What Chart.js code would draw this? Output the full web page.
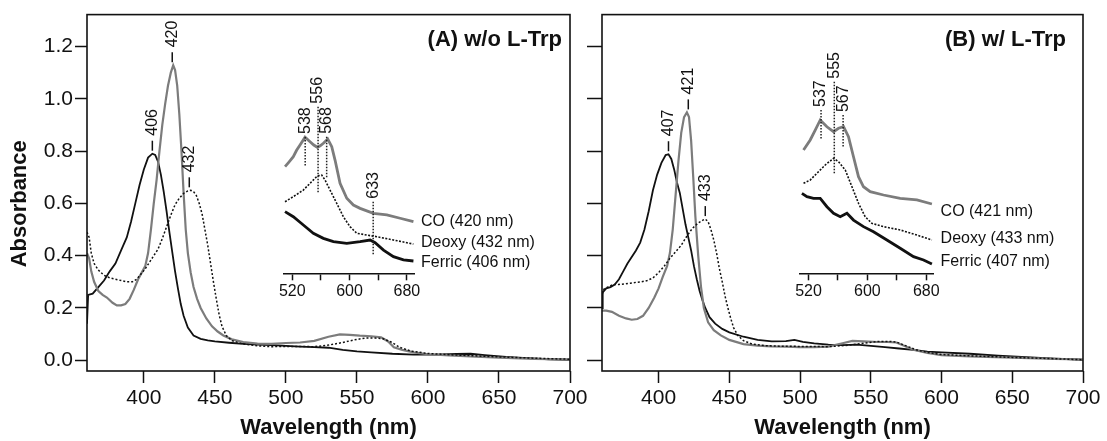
<!DOCTYPE html>
<html>
<head>
<meta charset="utf-8">
<script src="https://cdn.jsdelivr.net/npm/chart.js@4/dist/chart.umd.min.js"></script>
<style>
    body { margin: 0; background: #fff; }
    #wrap { position: relative; width: 1107px; height: 441px; }
    canvas { position: absolute; }
</style>
</head>
<body>
<div id="wrap">
    <canvas id="mainA" width="600" height="441" style="left:0;top:0"></canvas>
    <canvas id="mainB" width="532" height="441" style="left:575px;top:0"></canvas>
    <canvas id="insetA" width="290" height="270" style="left:270px;top:40px"></canvas>
    <canvas id="insetB" width="321" height="270" style="left:786px;top:40px"></canvas>
</div>
<script>
// ---- main spectra, panel A (w/o L-Trp) ----
var ferricA_nm = [360, 360.8, 364, 368, 372, 376, 380, 384, 388, 391, 394, 397, 400, 403, 406, 408, 410, 412, 414, 416, 418, 420, 422, 424, 426, 428, 431, 435, 440, 445, 450, 460, 470, 480, 490, 500, 510, 520, 530, 540, 550, 560, 575, 590, 605, 620, 630, 640, 655, 670, 685, 700];
var ferricA_abs = [0.14, 0.25, 0.255, 0.28, 0.305, 0.34, 0.37, 0.42, 0.47, 0.53, 0.6, 0.67, 0.73, 0.775, 0.79, 0.785, 0.76, 0.71, 0.645, 0.57, 0.49, 0.415, 0.34, 0.275, 0.215, 0.17, 0.125, 0.095, 0.082, 0.076, 0.072, 0.067, 0.063, 0.06, 0.058, 0.055, 0.052, 0.05, 0.048, 0.04, 0.034, 0.03, 0.025, 0.022, 0.022, 0.024, 0.025, 0.02, 0.013, 0.008, 0.004, 0.002];

var coA_nm = [360, 361.5, 363, 365, 368, 371, 374, 378, 381, 384, 387, 390, 393, 396, 399, 401, 403, 405, 407, 409, 411, 413, 415, 417, 419, 420.7, 422, 423.5, 425, 426.5, 428, 429.5, 431, 433, 435, 437.5, 440, 444, 448, 452, 456, 462, 470, 480, 490, 500, 510, 520, 530, 538, 545, 552, 560, 567, 572, 576, 582, 590, 600, 615, 630, 650, 675, 700];
var coA_abs = [0.41, 0.39, 0.34, 0.3, 0.265, 0.25, 0.24, 0.22, 0.21, 0.21, 0.215, 0.235, 0.27, 0.31, 0.34, 0.36, 0.41, 0.5, 0.6, 0.69, 0.8, 0.9, 0.98, 1.05, 1.1, 1.128, 1.11, 1.05, 0.94, 0.8, 0.64, 0.5, 0.41, 0.335, 0.28, 0.235, 0.2, 0.16, 0.13, 0.11, 0.095, 0.08, 0.07, 0.064, 0.063, 0.066, 0.068, 0.074, 0.09, 0.099, 0.097, 0.094, 0.092, 0.088, 0.072, 0.05, 0.04, 0.03, 0.023, 0.019, 0.015, 0.01, 0.005, 0.003];

var deoxyA_nm = [360, 361.5, 363, 365, 368, 372, 376, 380, 384, 388, 392, 395, 398, 401, 404, 407, 410, 413, 416, 419, 422, 425, 428, 431, 433, 435, 437, 439, 441, 443, 445, 447, 449, 451, 453, 455, 458, 462, 470, 480, 490, 500, 510, 520, 530, 540, 548, 556, 563, 568, 574, 580, 588, 600, 620, 650, 680, 700];
var deoxyA_abs = [0.49, 0.47, 0.41, 0.37, 0.345, 0.325, 0.315, 0.31, 0.305, 0.3, 0.3, 0.31, 0.33, 0.35, 0.375, 0.4, 0.425, 0.465, 0.51, 0.555, 0.595, 0.62, 0.638, 0.648, 0.65, 0.645, 0.63, 0.6, 0.56, 0.5, 0.44, 0.37, 0.3, 0.235, 0.175, 0.13, 0.095, 0.075, 0.062, 0.055, 0.052, 0.053, 0.053, 0.052, 0.058, 0.068, 0.078, 0.085, 0.085, 0.083, 0.07, 0.05, 0.035, 0.026, 0.02, 0.013, 0.007, 0.004];

// ---- main spectra, panel B (w/ L-Trp) ----
var ferricB_nm = [360, 360.5, 363, 366, 369, 372, 375, 378, 381, 384, 387, 390, 393, 396, 399, 402, 405, 407, 409, 411, 413, 415, 417, 419, 421, 423, 425, 427, 429, 431, 433, 436, 440, 445, 450, 460, 470, 480, 490, 496, 502, 510, 520, 530, 540, 550, 560, 570, 580, 590, 600, 620, 640, 660, 680, 700];
var ferricB_abs = [0.2, 0.26, 0.275, 0.28, 0.29, 0.31, 0.34, 0.37, 0.395, 0.42, 0.45, 0.5, 0.57, 0.65, 0.71, 0.755, 0.785, 0.788, 0.77, 0.73, 0.68, 0.64, 0.58, 0.52, 0.47, 0.42, 0.36, 0.31, 0.265, 0.23, 0.2, 0.165, 0.14, 0.12, 0.107, 0.09, 0.078, 0.072, 0.073, 0.078, 0.07, 0.065, 0.06, 0.058, 0.06, 0.055, 0.05, 0.045, 0.04, 0.033, 0.03, 0.025, 0.018, 0.012, 0.006, 0.002];

var coB_nm = [360, 363, 367, 372, 377, 381, 385, 389, 393, 397, 400, 403, 406, 408, 410, 412, 414, 416, 418, 420, 421.5, 423, 424.5, 426, 428, 430, 432, 435, 439, 444, 450, 460, 470, 480, 490, 500, 510, 520, 530, 537, 545, 555, 562, 568, 574, 580, 590, 600, 620, 650, 680, 700];
var coB_abs = [0.19, 0.19, 0.185, 0.17, 0.16, 0.155, 0.158, 0.17, 0.2, 0.24, 0.275, 0.32, 0.36, 0.41, 0.5, 0.63, 0.76, 0.87, 0.93, 0.948, 0.93, 0.84, 0.7, 0.55, 0.4, 0.28, 0.2, 0.145, 0.115, 0.095, 0.078, 0.062, 0.056, 0.053, 0.052, 0.05, 0.05, 0.052, 0.065, 0.074, 0.072, 0.07, 0.07, 0.068, 0.055, 0.04, 0.028, 0.02, 0.015, 0.01, 0.005, 0.003];

var deoxyB_nm = [360, 360.8, 364, 368, 372, 376, 380, 384, 388, 392, 396, 400, 404, 408, 412, 416, 420, 424, 428, 431, 433, 435, 437, 439, 441, 443, 445, 447, 449, 451, 453, 456, 460, 466, 475, 485, 500, 520, 535, 545, 555, 563, 568, 575, 582, 590, 600, 620, 650, 680, 700];
var deoxyB_abs = [0.24, 0.27, 0.28, 0.29, 0.29, 0.292, 0.295, 0.298, 0.3, 0.305, 0.315, 0.335, 0.36, 0.39, 0.415, 0.44, 0.475, 0.505, 0.525, 0.535, 0.54, 0.53, 0.5, 0.46, 0.41, 0.35, 0.3, 0.245, 0.2, 0.16, 0.125, 0.095, 0.075, 0.062, 0.056, 0.054, 0.053, 0.052, 0.058, 0.065, 0.072, 0.072, 0.07, 0.055, 0.04, 0.03, 0.022, 0.017, 0.011, 0.006, 0.002];

// peak labels of the Soret bands
var peakA_nm = [406, 420, 432];
var peakA_abs = [0.79, 1.128, 0.65];
var peakB_nm = [407, 421, 433];
var peakB_abs = [0.788, 0.948, 0.54];

// ---- insets (offset spectra, arbitrary units) ----
var insCoA_nm = [509.8, 515, 521.4, 526, 530.8, 537.8, 544.8, 550, 555, 559, 563.4, 569.5, 575.1, 579.7, 586.7, 596.1, 605.3, 614.7, 633.3, 652, 670.6, 689.2];
var insCoA_val = [0.711, 0.74, 0.777, 0.82, 0.855, 0.907, 0.877, 0.855, 0.84, 0.85, 0.867, 0.895, 0.844, 0.755, 0.6, 0.5, 0.455, 0.433, 0.4, 0.389, 0.367, 0.344];
var insDeoxyA_nm = [509.8, 521.4, 535.4, 544.8, 555, 561.1, 565.7, 572.7, 582, 591.3, 600.6, 610, 624, 638, 661.3, 689.2];
var insDeoxyA_val = [0.477, 0.511, 0.555, 0.6, 0.649, 0.655, 0.622, 0.555, 0.467, 0.377, 0.311, 0.267, 0.255, 0.244, 0.222, 0.195];
var insFerricA_nm = [509.8, 521.4, 535.4, 549.4, 563.4, 577.4, 596.1, 614.7, 628.7, 635.7, 647.4, 661.3, 675.3, 689.2];
var insFerricA_val = [0.411, 0.377, 0.322, 0.267, 0.233, 0.211, 0.2, 0.211, 0.222, 0.204, 0.155, 0.111, 0.089, 0.082];

var insCoB_nm = [513.2, 522.3, 529.1, 535.9, 545, 554, 560.8, 567.6, 574.3, 581.1, 587.9, 594.7, 603.8, 621.9, 644.6, 667.3, 687.7];
var insCoB_val = [0.822, 0.889, 0.955, 1.022, 0.977, 0.944, 0.967, 0.977, 0.911, 0.777, 0.644, 0.577, 0.544, 0.522, 0.5, 0.489, 0.462];
var insDeoxyB_nm = [513.2, 522.3, 531.4, 542.7, 554, 560.8, 569.9, 579, 587.9, 597, 606.1, 621.9, 644.6, 667.3, 687.7];
var insDeoxyB_val = [0.6, 0.622, 0.667, 0.722, 0.767, 0.744, 0.689, 0.577, 0.467, 0.377, 0.333, 0.311, 0.289, 0.255, 0.222];
var insFerricB_nm = [511, 517.8, 526.8, 535.9, 545, 554, 563.1, 572.2, 581.1, 594.7, 608.3, 626.5, 644.6, 662.7, 676.3, 687.7];
var insFerricB_val = [0.533, 0.511, 0.5, 0.5, 0.444, 0.4, 0.377, 0.4, 0.355, 0.311, 0.277, 0.222, 0.167, 0.111, 0.089, 0.062];

// dotted markers in the insets: wavelength, top and bottom of the line
var markA_nm = [538, 556, 568, 633];
var markA_top = [0.909, 1.111, 0.91, 0.477];
var markA_bottom = [0.709, 0.533, 0.635, 0.122];
var markB_nm = [537, 555, 567];
var markB_top = [1.089, 1.277, 1.055];
var markB_bottom = [0.889, 0.667, 0.844];

var insetLabelsA = ['CO (420 nm)', 'Deoxy (432 nm)', 'Ferric (406 nm)'];
var insetLabelsB = ['CO (421 nm)', 'Deoxy (433 nm)', 'Ferric (407 nm)'];

var xTicks = [400, 450, 500, 550, 600, 650, 700];
var yTicks = [0, 0.2, 0.4, 0.6, 0.8, 1.0, 1.2];
var insetTicks = [520, 560, 600, 640, 680];

var FONT = '"Liberation Sans", Arial, Helvetica, sans-serif';
var INK = '#111';
var GRAY = '#7c7c7c';
Chart.defaults.font.family = FONT;
Chart.defaults.color = INK;

function toPoints(nm, vals) {
    return nm.map(function (x, i) {
        return { x: x, y: vals[i] };
    });
}

function line(nm, vals, color, width, dash) {
    return {
        data: toPoints(nm, vals),
        borderColor: color,
        borderWidth: width,
        borderDash: dash || [],
        pointRadius: 0,
        tension: 0,
        fill: false
    };
}

// box round the plot area
var framePlugin = {
    id: 'frame',
    afterDraw: function (chart) {
        var a = chart.chartArea, ctx = chart.ctx;
        ctx.save();
        ctx.strokeStyle = INK;
        ctx.lineWidth = 1.6;
        ctx.strokeRect(a.left, a.top, a.right - a.left, a.bottom - a.top);
        ctx.restore();
    }
};

function peakLabels(nmArr, absArr) {
    return {
        id: 'peaks',
        afterDatasetsDraw: function (chart) {
            var ctx = chart.ctx, xs = chart.scales.x, ys = chart.scales.y;
            ctx.save();
            ctx.strokeStyle = INK;
            ctx.fillStyle = INK;
            ctx.lineWidth = 1.5;
            ctx.font = '16px ' + FONT;
            nmArr.forEach(function (nm, i) {
                var x = xs.getPixelForValue(nm);
                var y = ys.getPixelForValue(absArr[i]) - 3;
                ctx.beginPath();
                ctx.moveTo(x, y);
                ctx.lineTo(x, y - 10);
                ctx.stroke();
                ctx.save();
                ctx.translate(x, y - 15);
                ctx.rotate(-Math.PI / 2);
                ctx.textAlign = 'left';
                ctx.textBaseline = 'middle';
                ctx.fillText(String(nm), 0, 0);
                ctx.restore();
            });
            ctx.restore();
        }
    };
}

function panelText(title, titleRight, yTitle) {
    return {
        id: 'panelText',
        afterDraw: function (chart) {
            var ctx = chart.ctx, a = chart.chartArea;
            ctx.save();
            ctx.fillStyle = INK;
            ctx.font = 'bold 22px ' + FONT;
            ctx.textAlign = 'right';
            ctx.textBaseline = 'middle';
            ctx.fillText(title, a.right - titleRight, a.top + 25);
            if (yTitle) {
                ctx.translate(20, (a.top + a.bottom) / 2 + 11);
                ctx.rotate(-Math.PI / 2);
                ctx.textAlign = 'center';
                ctx.fillText(yTitle, 0, 0);
            }
            ctx.restore();
        }
    };
}

function addSpectrumChart(id, sets, peakNm, peakAbs, opts) {
    return new Chart(document.getElementById(id), {
        type: 'line',
        data: { datasets: sets },
        options: {
            responsive: false,
            animation: false,
            devicePixelRatio: 1,
            layout: { padding: { left: 0, top: 14, right: opts.right, bottom: 0 } },
            plugins: { legend: { display: false }, tooltip: { enabled: false } },
            scales: {
                x: {
                    type: 'linear', min: 360, max: 700,
                    afterBuildTicks: function (s) { s.ticks = xTicks.map(function (v) { return { value: v }; }); },
                    afterFit: function (s) { s.height = 70; },
                    border: { display: false },
                    grid: { drawOnChartArea: false, tickLength: 12, tickColor: INK, tickWidth: 1.5 },
                    ticks: { font: { size: 21 }, color: INK, padding: 3, maxRotation: 0, autoSkip: false },
                    title: { display: true, text: 'Wavelength (nm)', font: { size: 22, weight: 'bold' }, color: INK, padding: 0 }
                },
                y: {
                    type: 'linear', min: -0.041, max: 1.322,
                    afterBuildTicks: function (s) { s.ticks = yTicks.map(function (v) { return { value: v }; }); },
                    afterFit: function (s) { s.width = opts.left; },
                    border: { display: false },
                    grid: { drawOnChartArea: false, tickLength: opts.tick, tickColor: INK, tickWidth: 1.5 },
                    ticks: {
                        font: { size: 21 }, color: INK, padding: 2, autoSkip: false,
                        callback: function (v) { return opts.yLabels ? v.toFixed(1) : ''; }
                    }
                }
            }
        },
        plugins: [framePlugin, peakLabels(peakNm, peakAbs), panelText(opts.title, opts.titleRight, opts.yTitle)]
    });
}

function insetMarks(nmArr, topArr, bottomArr) {
    return {
        id: 'marks',
        afterDatasetsDraw: function (chart) {
            var ctx = chart.ctx, xs = chart.scales.x, ys = chart.scales.y;
            ctx.save();
            ctx.strokeStyle = '#222';
            ctx.fillStyle = INK;
            ctx.lineWidth = 1.5;
            ctx.setLineDash([1.5, 1.5]);
            ctx.font = '16px ' + FONT;
            nmArr.forEach(function (nm, i) {
                var x = xs.getPixelForValue(nm);
                var y1 = ys.getPixelForValue(topArr[i]);
                var y2 = ys.getPixelForValue(bottomArr[i]);
                ctx.beginPath();
                ctx.moveTo(x, y1);
                ctx.lineTo(x, y2);
                ctx.stroke();
                ctx.save();
                ctx.translate(x, y1 - 3);
                ctx.rotate(-Math.PI / 2);
                ctx.textAlign = 'left';
                ctx.textBaseline = 'middle';
                ctx.fillText(String(nm), 0, 0);
                ctx.restore();
            });
            ctx.restore();
        }
    };
}

function endLabels(texts, levels) {
    return {
        id: 'endLabels',
        afterDatasetsDraw: function (chart) {
            var ctx = chart.ctx, ys = chart.scales.y, a = chart.chartArea;
            ctx.save();
            ctx.fillStyle = INK;
            ctx.font = '16px ' + FONT;
            ctx.textAlign = 'left';
            ctx.textBaseline = 'middle';
            texts.forEach(function (t, i) {
                ctx.fillText(t, a.right + 7, ys.getPixelForValue(levels[i]));
            });
            ctx.restore();
        }
    };
}

function addInsetChart(id, sets, labels, levels, marks, right) {
    return new Chart(document.getElementById(id), {
        type: 'line',
        data: { datasets: sets },
        options: {
            responsive: false,
            animation: false,
            devicePixelRatio: 1,
            layout: { padding: { left: 14, top: 53.3, right: right, bottom: 0 } },
            plugins: { legend: { display: false }, tooltip: { enabled: false } },
            scales: {
                x: {
                    type: 'linear', min: 508.4, max: 690,
                    afterBuildTicks: function (s) { s.ticks = insetTicks.map(function (v) { return { value: v }; }); },
                    afterFit: function (s) { s.height = 36.7; },
                    border: { display: true, color: INK, width: 1.5 },
                    grid: { drawOnChartArea: false, tickLength: 7, tickColor: INK, tickWidth: 1.5 },
                    ticks: {
                        font: { size: 16 }, color: INK, padding: 2, maxRotation: 0, autoSkip: false,
                        callback: function (v) { return (v - 520) % 80 === 0 ? String(v) : ''; }
                    }
                },
                y: { display: false, min: 0, max: 1.2 }
            }
        },
        plugins: [insetMarks(marks[0], marks[1], marks[2]), endLabels(labels, levels)]
    });
}

addSpectrumChart('mainA', [
    line(deoxyA_nm, deoxyA_abs, INK, 1.5, [2, 2]),
    line(coA_nm, coA_abs, GRAY, 2.2),
    line(ferricA_nm, ferricA_abs, INK, 1.8)
], peakA_nm, peakA_abs, { left: 87, right: 30, tick: 12, yLabels: true, title: '(A) w/o L-Trp', titleRight: 8, yTitle: 'Absorbance' });

addSpectrumChart('mainB', [
    line(deoxyB_nm, deoxyB_abs, INK, 1.5, [2, 2]),
    line(coB_nm, coB_abs, GRAY, 2.2),
    line(ferricB_nm, ferricB_abs, INK, 1.8)
], peakB_nm, peakB_abs, { left: 27, right: 24, tick: 15, yLabels: false, title: '(B) w/ L-Trp', titleRight: 17 });

addInsetChart('insetA', [
    line(insCoA_nm, insCoA_val, GRAY, 2.8),
    line(insDeoxyA_nm, insDeoxyA_val, INK, 1.6, [2, 1.5]),
    line(insFerricA_nm, insFerricA_val, INK, 2.8)
], insetLabelsA, [0.344, 0.204, 0.071], [markA_nm, markA_top, markA_bottom], 146);

addInsetChart('insetB', [
    line(insCoB_nm, insCoB_val, GRAY, 2.8),
    line(insDeoxyB_nm, insDeoxyB_val, INK, 1.6, [2, 1.5]),
    line(insFerricB_nm, insFerricB_val, INK, 2.8)
], insetLabelsB, [0.411, 0.233, 0.077], [markB_nm, markB_top, markB_bottom], 173.4);
</script>
</body>
</html>
